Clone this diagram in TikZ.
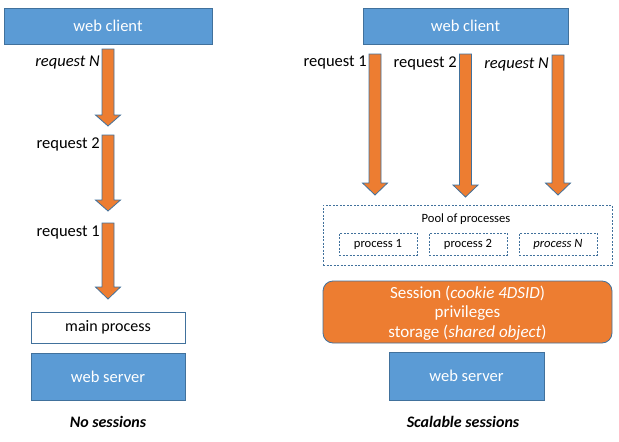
\documentclass[tikz,border=0pt]{standalone}
\usepackage{fontspec}
\setmainfont{Carlito}
\begin{document}
\begin{tikzpicture}[x=1pt,y=-1pt,
  bluebox/.style={draw=bordblue,fill=fillblue,line width=0.8pt,text=white,font=\fontsize{16.5}{19}\selectfont},
  whitebox/.style={draw=bordblue,fill=white,line width=0.8pt,font=\fontsize{16}{19}\selectfont},
  dbox/.style={draw=bordblue,dashed,dash pattern=on 2pt off 1.5pt,line width=0.6pt,fill=white},
  lbl/.style={anchor=east,inner sep=1pt,font=\fontsize{16.5}{19}\selectfont},
  small/.style={font=\fontsize{12.6}{14}\selectfont},
  stxt/.style={text=white,font=\fontsize{17}{20}\selectfont},
  captxt/.style={font=\fontsize{16}{19}\selectfont\bfseries\itshape},
  barrowst/.style={draw=bordblue,fill=orng,line width=0.8pt,line join=miter}
]
\definecolor{fillblue}{HTML}{5B9BD5}
\definecolor{bordblue}{HTML}{41719C}
\definecolor{orng}{HTML}{ED7D31}
\useasboundingbox (0,0) rectangle (619,442);
\newcommand\blockarr[4]{% center x, top, bottom, head start
  \draw[barrowst] ({#1-6},#2) -- ({#1+6},#2) -- ({#1+6},#4) -- ({#1+12.5},#4) -- (#1,#3) -- ({#1-12.5},#4) -- ({#1-6},#4) -- cycle;}

% ---------- left ----------
\node[bluebox,minimum width=208,minimum height=36] (lclient) at (108,26) {web client};
\blockarr{108}{49}{126}{115}
\blockarr{108}{135}{211}{200}
\blockarr{108}{223}{299}{287}
\node[lbl] (lrN) at (101,63) {\itshape request N};
\node[lbl] (lr2) at (101,144) {request 2};
\node[lbl] (lr1) at (101,233) {request 1};
\node[whitebox,minimum width=154,minimum height=31] (lmain) at (108,327.5) {main process};
\node[bluebox,minimum width=154,minimum height=47] (lserver) at (108,376.5) {web server};
\node[captxt] (lcap) at (108,422) {No sessions};

% ---------- right ----------
\node[bluebox,minimum width=205,minimum height=36] (rclient) at (465.5,26) {web client};
\blockarr{375}{54}{195}{183}
\blockarr{465.5}{54}{197}{185}
\blockarr{558}{55}{195}{183}
\node[lbl] (rr1) at (368,63) {request 1};
\node[lbl] (rr2) at (458,63) {request 2};
\node[lbl] (rrN) at (550,65) {\itshape request N};

\node[dbox,minimum width=289,minimum height=60] (pool) at (467.5,235) {};
\node[small] (pooltxt) at (466,219) {Pool of processes};
\node[dbox,small,minimum width=78,minimum height=22,inner sep=0pt] (p1) at (378,244) {process 1};
\node[dbox,small,minimum width=78,minimum height=22,inner sep=0pt] (p2) at (468,244) {process 2};
\node[dbox,small,minimum width=78,minimum height=22,inner sep=0pt] (pN) at (558,244) {\itshape process N};

\node[draw=bordblue,fill=orng,line width=0.8pt,rounded corners=10pt,minimum width=289,minimum height=62] (session) at (467.5,312) {};
\node[stxt] (s1) at (467.5,293) {Session (\textit{cookie 4DSID})};
\node[stxt] (s2) at (467.5,313) {privileges};
\node[stxt] (s3) at (467.5,333) {storage (\textit{shared object})};

\node[bluebox,minimum width=155,minimum height=48] (rserver) at (466.5,376) {web server};
\node[captxt] (rcap) at (463,422) {Scalable sessions};
\end{tikzpicture}
\end{document}
